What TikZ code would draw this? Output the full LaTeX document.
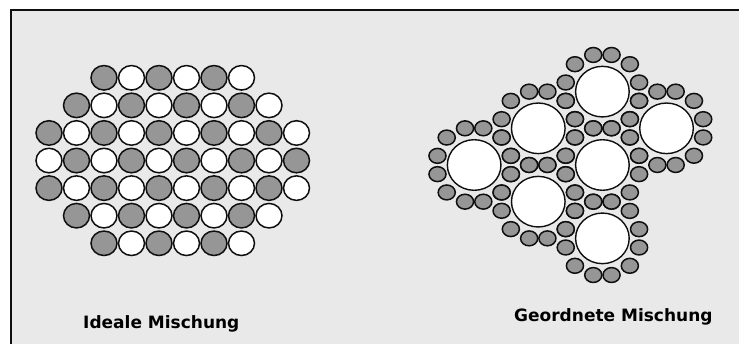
\documentclass[tikz,border=0pt]{standalone}
\usepackage{fontspec}
\setmainfont{DejaVu Sans}
\definecolor{panelbg}{RGB}{233,233,233}
\definecolor{graingray}{RGB}{150,150,150}
\definecolor{outline}{RGB}{15,15,15}
\begin{document}
\begin{tikzpicture}[x=1pt,y=-1pt,
  panel/.style={fill=panelbg,draw=outline,line width=2pt},
  grain/.style={draw=outline,line width=1.5pt},
  pore/.style={draw=outline,line width=1.4pt,fill=white},
  caption/.style={font=\bfseries\fontsize{17}{20}\selectfont,inner sep=0pt,anchor=base west,text=black}]
\useasboundingbox (0,0) rectangle (739,344);
\fill[white] (0,0) rectangle (739,344);
\clip (0,0) rectangle (739,344);
\draw[panel] (11,10) rectangle (760,360);

% ideal mixture: checkerboard of equal-sized grains
\foreach \r/\cmin/\cmax in {0/2/7,1/1/8,2/0/9,3/0/9,4/0/9,5/1/8,6/2/7} {
  \foreach \c in {\cmin,...,\cmax} {
    \pgfmathtruncatemacro\parity{\r+\c}
    \ifodd\parity \def\grainfill{white}\else\def\grainfill{graingray}\fi
    \draw[grain,fill=\grainfill] (49+27.5*\c,77.8+27.58*\r) ellipse [x radius=13.0,y radius=12.25];
  }
}

% ordered mixture: large carrier particles, each ringed by twelve fine grains
\begin{scope}[shift={(602.4,165)}]
  \foreach \bx/\by in {0/0,0/-73.36,0/73.36,-64.12/-36.68,-64.12/36.68,64.12/-36.68,-128.24/0} {
    \draw[pore] (\bx,\by) ellipse [x radius=26.8,y radius=25.3];
    \foreach \dx/\dy in {36.68/9.14,27.44/27.44,9.14/36.68} {
      \foreach \sx/\sy in {1/1,-1/1,1/-1,-1/-1}
        \draw[grain,fill=graingray] (\bx+\sx*\dx,\by+\sy*\dy) ellipse [x radius=8.55,y radius=7.45];
    }
  }
\end{scope}

\node[caption] (ideal) at (83,329) {Ideale Mischung};
\node[caption] (ordered) at (514,321.7) {Geordnete Mischung};
\end{tikzpicture}
\end{document}
